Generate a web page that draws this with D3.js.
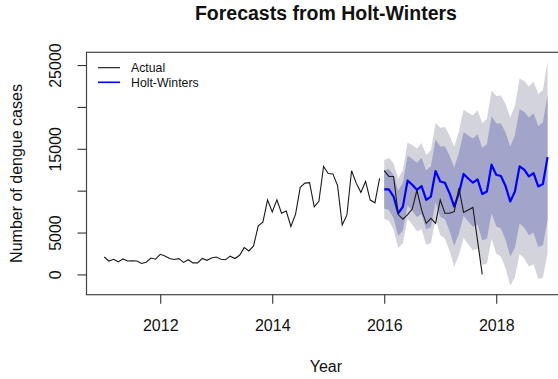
<!DOCTYPE html>
<html>
<head>
<meta charset="utf-8">
<script src="https://cdn.jsdelivr.net/npm/d3@7"></script>
<style>
  body { margin: 0; background: #fff; }
  svg { display: block; }
  text { font-family: "Liberation Sans", Arial, Helvetica, sans-serif; fill: #111; }
</style>
</head>
<body>
<svg id="chart" width="558" height="379"></svg>
<script>
// Monthly dengue cases, training period Jan 2011 - Dec 2015
const trainStart = 2011;
const trainCases = [
  2080, 1600, 1800, 1500, 1850, 1600, 1620, 1600, 1300, 1450, 1950, 1820,
  2400, 2200, 1900, 1780, 1880, 1440, 1760, 1380, 1380, 1900, 1680, 1950,
  2080, 1820, 1760, 2180, 1900, 2280, 3200, 2800, 3400, 5800, 6250, 8900,
  7450, 8900, 7300, 7560, 5720, 7200, 10400, 10900, 10950, 8080, 8720, 12880,
  12050, 12000, 10600, 5900, 7100, 12380, 10900, 9800, 11100, 8880, 8550, 11480
];

// Observed cases after the training period, Jan 2016 - Oct 2017
const testStart = 2016;
const testCases = [
  12400, 11700, 11700, 7150, 6600, 7150, 7800, 10050, 7700, 6100, 6700, 6100,
  8900, 7300, 7300, 7500, 10300, 7400, 7700, 8000, 4000, 0
];

// Holt-Winters point forecasts and prediction intervals, Jan 2016 - Dec 2018
const forecastStart = 2016;
const forecastMean = [
  10150, 10150, 9300, 7300, 8100, 11200, 10700, 10100, 10550, 8900, 9300, 12350,
  11100, 10950, 9700, 8100, 9700, 12000, 11450, 10950, 11350, 9600, 9900, 13100,
  11900, 11750, 10550, 8700, 9900, 12900, 12500, 11700, 12100, 10500, 10800, 14000
];
const lower80 = [
  7860, 7700, 6720, 4590, 5255, 8225, 7595, 6865, 7180, 5400, 5670, 8590,
  6915, 6600, 5190, 3425, 4860, 6995, 6315, 5685, 5955, 4075, 4245, 7310,
  5750, 5470, 4140, 2125, 3195, 6065, 5570, 4670, 4970, 3275, 3475, 6510
];
const upper80 = [
  12440, 12600, 11880, 10010, 10945, 14175, 13805, 13335, 13920, 12400, 12930, 16110,
  15285, 15300, 14210, 12775, 14540, 17005, 16585, 16215, 16745, 15125, 15555, 18890,
  18050, 18030, 16960, 15275, 16605, 19735, 19430, 18730, 19230, 17725, 18125, 21490
];
const lower95 = [
  6650, 6400, 5350, 3150, 3750, 6650, 5950, 5150, 5400, 3550, 3750, 6600,
  4700, 4300, 2800, 950, 2300, 4350, 3600, 2900, 3100, 1150, 1250, 4250,
  2500, 2150, 750, -1350, -350, 2450, 1900, 950, 1200, -550, -400, 2550
];
const upper95 = [
  13650, 13900, 13250, 11450, 12450, 15750, 15450, 15050, 15700, 14250, 14850, 18100,
  17500, 17600, 16600, 15250, 17100, 19650, 19300, 19000, 19600, 18050, 18550, 21950,
  21300, 21350, 20350, 18750, 20150, 23350, 23100, 22450, 23000, 21550, 22000, 25450
];

const xTickYears = [2012, 2014, 2016, 2018];
const yTickValues = [0, 5000, 10000, 15000, 20000, 25000];
const yTickLabels = ["0", "5000", "", "15000", "", "25000"];
const legendLabels = ["Actual", "Holt-Winters"];
const legendColors = ["#111111", "#0000ff"];

const monthly = (vals, start) => vals.map((v, i) => ({ t: start + i / 12, v }));
const train = monthly(trainCases, trainStart);
const test = monthly(testCases, testStart);
const fc = forecastMean.map((v, i) => ({
  t: forecastStart + i / 12, v,
  lo80: lower80[i], hi80: upper80[i], lo95: lower95[i], hi95: upper95[i]
}));

// Plot region (R-style box with 4% padding around the data)
const box = { left: 86.5, right: 565.3, top: 52.3, bottom: 294.7 };
const tExtent = d3.extent(train.concat(test, fc), d => d.t);
const tPad = (tExtent[1] - tExtent[0]) * 0.04;
const vMin = d3.min([d3.min(trainCases), d3.min(testCases), d3.min(lower95)]);
const vMax = d3.max([d3.max(trainCases), d3.max(testCases), d3.max(upper95)]);
const vPad = (vMax - vMin) * 0.04;

const x = d3.scaleLinear().domain([tExtent[0] - tPad, tExtent[1] + tPad]).range([box.left, box.right]);
const y = d3.scaleLinear().domain([vMin - vPad, vMax + vPad]).range([box.bottom, box.top]);

const svg = d3.select("#chart");

// Prediction interval bands
const band = (lo, hi) => d3.area().x(d => x(d.t)).y0(d => y(d[lo])).y1(d => y(d[hi]));
svg.append("path").datum(fc).attr("d", band("lo95", "hi95")).attr("fill", "#d3d3db");
svg.append("path").datum(fc).attr("d", band("lo80", "hi80")).attr("fill", "#a2a5c9");

const line = d3.line().x(d => x(d.t)).y(d => y(d.v));

// Forecast mean
svg.append("path").datum(fc).attr("d", line)
  .attr("fill", "none").attr("stroke", "#0000ff").attr("stroke-width", 2.2)
  .attr("stroke-linejoin", "round");

// Observed series
svg.append("path").datum(train).attr("d", line)
  .attr("fill", "none").attr("stroke", "#1a1a1a").attr("stroke-width", 1.1);
svg.append("path").datum(test).attr("d", line)
  .attr("fill", "none").attr("stroke", "#1a1a1a").attr("stroke-width", 1.1);

// Frame
svg.append("rect")
  .attr("x", box.left).attr("y", box.top)
  .attr("width", box.right - box.left).attr("height", box.bottom - box.top)
  .attr("fill", "none").attr("stroke", "#444").attr("stroke-width", 1.2);

// X axis
const xAxis = svg.append("g")
  .attr("transform", `translate(0,${box.bottom})`)
  .call(d3.axisBottom(x).tickValues(xTickYears).tickFormat(d3.format("d")).tickSize(9).tickSizeOuter(0));
xAxis.select(".domain").remove();
xAxis.selectAll("line").attr("stroke", "#333").attr("stroke-width", 1.1);
xAxis.selectAll("text").attr("font-size", 16).attr("y", 25).attr("dy", "0.71em")
  .style("font-family", '"Liberation Sans", Arial, sans-serif').attr("fill", "#111");

// Y axis
const yAxis = svg.append("g")
  .attr("transform", `translate(${box.left},0)`)
  .call(d3.axisLeft(y).tickValues(yTickValues)
    .tickFormat((d, i) => yTickLabels[i]).tickSize(9).tickSizeOuter(0));
yAxis.select(".domain").remove();
yAxis.selectAll("line").attr("stroke", "#333").attr("stroke-width", 1.1);
yAxis.selectAll("text")
  .attr("transform", "rotate(-90)")
  .attr("x", 0).attr("y", -26).attr("dy", 0)
  .attr("text-anchor", "middle")
  .attr("font-size", 16)
  .style("font-family", '"Liberation Sans", Arial, sans-serif').attr("fill", "#111");

// Titles
const midX = (box.left + box.right) / 2;
svg.append("text").attr("x", midX).attr("y", 20).attr("text-anchor", "middle")
  .attr("font-size", 19.5).attr("font-weight", "bold").text("Forecasts from Holt-Winters");
svg.append("text").attr("x", midX).attr("y", 372).attr("text-anchor", "middle")
  .attr("font-size", 16).text("Year");
svg.append("text")
  .attr("transform", `translate(21.5,${(box.top + box.bottom) / 2}) rotate(-90)`)
  .attr("text-anchor", "middle").attr("font-size", 16).text("Number of dengue cases");

// Legend
const legend = svg.append("g").attr("transform", "translate(98,67.7)");
legendLabels.forEach((lab, i) => {
  const g = legend.append("g").attr("transform", `translate(0,${i * 14.6})`);
  g.append("line").attr("x1", 0).attr("x2", 22).attr("y1", 0).attr("y2", 0)
    .attr("stroke", legendColors[i]).attr("stroke-width", i === 1 ? 1.6 : 1.1);
  g.append("text").attr("x", 33).attr("y", 4.3).attr("font-size", 12.3).text(lab);
});
</script>
</body>
</html>
